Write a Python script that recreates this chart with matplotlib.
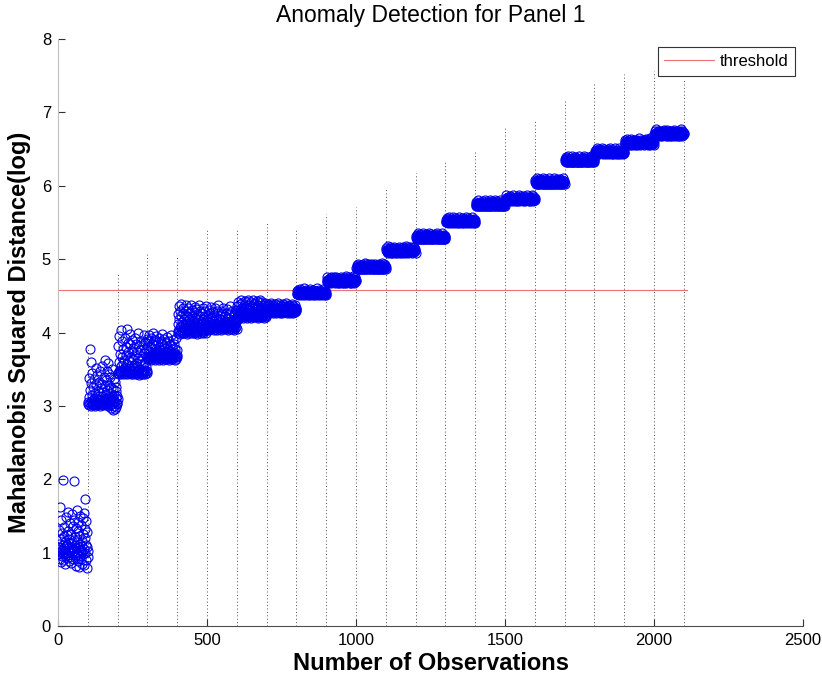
import numpy as np
import matplotlib
matplotlib.use('Agg')
import matplotlib.pyplot as plt

plt.rcParams['font.family'] = ['Liberation Sans', 'DejaVu Sans']

# log Mahalanobis squared distance, one list per block of 100 observations
obs_0001 = [1.05, 0.98, 1.12, 1.31, 0.92, 1.08, 1.62, 1.01, 0.87, 1.18, 1.44, 0.95, 1.03, 1.27, 0.99, 1.10, 1.99, 0.90, 1.22, 1.06,
            1.35, 0.96, 1.02, 1.15, 0.84, 1.09, 1.48, 1.00, 1.24, 0.93, 1.11, 1.56, 0.97, 1.04, 1.30, 0.88, 1.07, 1.19, 1.41, 1.01,
            0.94, 1.13, 1.26, 1.03, 0.86, 1.52, 1.08, 0.99, 1.36, 1.05, 0.91, 1.17, 1.45, 1.98, 1.02, 0.95, 1.21, 1.10, 0.82, 1.33,
            1.06, 1.58, 0.97, 1.14, 1.00, 1.29, 0.89, 1.42, 1.08, 1.03, 0.80, 1.23, 1.50, 0.96, 1.12, 1.04, 1.37, 0.92, 1.16, 1.01,
            1.09, 0.85, 1.47, 1.25, 0.98, 1.05, 1.54, 0.83, 1.20, 1.73, 1.00, 1.32, 0.90, 1.11, 1.43, 0.79, 1.07, 1.28, 0.94, 1.02]
obs_0101 = [3.02, 3.05, 3.38, 3.01, 3.12, 3.77, 3.04, 3.22, 3.00, 3.60, 3.06, 3.31, 3.03, 3.15, 3.45, 3.01, 3.08, 3.26, 3.02, 3.10,
            3.04, 3.36, 3.00, 3.18, 3.07, 3.52, 3.03, 3.11, 3.28, 3.05, 3.01, 3.42, 3.09, 3.02, 3.20, 3.06, 3.33, 3.04, 3.14, 3.00,
            3.08, 3.47, 3.03, 3.24, 3.05, 3.13, 3.55, 3.02, 3.30, 3.07, 3.01, 3.19, 3.40, 3.04, 3.10, 3.62, 3.06, 3.27, 3.03, 3.16,
            3.05, 3.35, 3.02, 3.48, 3.09, 3.21, 3.00, 3.58, 3.12, 3.04, 3.29, 3.44, 3.06, 3.17, 3.01, 3.39, 3.08, 3.25, 2.97, 3.13,
            3.03, 3.50, 3.10, 2.95, 3.23, 3.06, 3.37, 3.00, 3.15, 2.96, 3.32, 3.05, 3.20, 3.11, 2.98, 3.26, 3.04, 3.14, 3.02, 3.09]
obs_0201 = [3.45, 3.82, 3.47, 3.60, 3.44, 3.95, 3.48, 3.71, 3.46, 3.55, 4.03, 3.43, 3.66, 3.49, 3.88, 3.45, 3.58, 3.47, 3.77, 3.44,
            3.50, 3.63, 3.46, 3.92, 3.48, 3.53, 3.80, 3.45, 3.69, 3.47, 4.05, 3.44, 3.57, 3.74, 3.46, 3.86, 3.49, 3.62, 3.45, 3.98,
            3.47, 3.52, 3.84, 3.43, 3.67, 3.48, 3.75, 3.46, 3.90, 3.51, 3.44, 3.64, 3.79, 3.47, 3.56, 3.45, 3.93, 3.49, 3.70, 3.46,
            3.59, 3.44, 3.85, 3.48, 3.54, 3.73, 3.45, 3.99, 3.47, 3.65, 3.42, 3.81, 3.50, 3.61, 3.46, 3.76, 3.44, 3.89, 3.48, 3.57,
            3.45, 3.68, 3.47, 3.83, 3.43, 3.54, 3.96, 3.46, 3.72, 3.49, 3.60, 3.44, 3.87, 3.47, 3.53, 3.78, 3.45, 3.66, 3.48, 3.91]
obs_0301 = [3.66, 3.88, 3.64, 3.75, 3.68, 3.97, 3.65, 3.81, 3.67, 3.72, 3.63, 3.92, 3.69, 3.78, 3.66, 3.85, 3.64, 3.70, 3.99, 3.67,
            3.74, 3.65, 3.90, 3.68, 3.63, 3.83, 3.66, 3.77, 3.69, 3.95, 3.64, 3.71, 3.67, 3.87, 3.65, 3.73, 3.68, 3.80, 3.62, 3.93,
            3.66, 3.76, 3.69, 3.89, 3.64, 3.72, 3.67, 3.84, 3.65, 3.98, 3.68, 3.74, 3.63, 3.82, 3.66, 3.70, 3.91, 3.67, 3.79, 3.64,
            3.69, 3.86, 3.65, 3.73, 3.67, 3.94, 3.64, 3.77, 3.68, 3.71, 3.66, 3.89, 3.63, 3.75, 3.69, 3.83, 3.65, 3.70, 3.96, 3.67,
            3.72, 3.64, 3.81, 3.68, 3.66, 3.90, 3.65, 3.74, 3.69, 3.85, 3.63, 3.71, 3.67, 3.78, 3.64, 3.92, 3.68, 3.70, 3.66, 3.76]
obs_0401 = [4.02, 4.25, 3.99, 4.11, 4.36, 4.04, 4.18, 3.98, 4.30, 4.07, 4.01, 4.22, 4.09, 4.39, 4.03, 4.14, 4.00, 4.27, 4.06, 4.12,
            4.33, 4.02, 4.19, 3.99, 4.08, 4.24, 4.05, 4.37, 4.01, 4.15, 4.10, 4.29, 3.98, 4.06, 4.21, 4.03, 4.34, 4.08, 4.00, 4.17,
            4.04, 4.26, 4.11, 4.01, 4.38, 4.07, 4.13, 3.99, 4.23, 4.05, 4.31, 4.02, 4.16, 4.09, 4.00, 4.28, 4.06, 4.12, 4.35, 4.03,
            4.20, 4.01, 4.10, 4.32, 4.04, 4.15, 3.98, 4.25, 4.07, 4.02, 4.19, 4.37, 4.05, 4.11, 4.00, 4.23, 4.08, 4.30, 4.03, 4.14,
            4.06, 4.27, 4.01, 4.12, 4.34, 4.04, 4.18, 3.99, 4.09, 4.22, 4.02, 4.29, 4.07, 4.13, 4.00, 4.36, 4.05, 4.16, 4.03, 4.10]
obs_0501 = [4.08, 4.22, 4.05, 4.15, 4.31, 4.07, 4.10, 4.04, 4.26, 4.09, 4.18, 4.06, 4.35, 4.11, 4.05, 4.20, 4.08, 4.13, 4.28, 4.06,
            4.10, 4.04, 4.24, 4.07, 4.16, 4.09, 4.33, 4.05, 4.12, 4.21, 4.08, 4.06, 4.29, 4.11, 4.04, 4.17, 4.09, 4.37, 4.07, 4.14,
            4.05, 4.23, 4.10, 4.06, 4.19, 4.08, 4.30, 4.04, 4.13, 4.09, 4.25, 4.07, 4.11, 4.05, 4.34, 4.08, 4.15, 4.06, 4.22, 4.10,
            4.07, 4.27, 4.05, 4.12, 4.09, 4.18, 4.06, 4.32, 4.11, 4.04, 4.20, 4.08, 4.14, 4.07, 4.26, 4.05, 4.10, 4.36, 4.09, 4.13,
            4.06, 4.21, 4.08, 4.11, 4.29, 4.05, 4.16, 4.10, 4.07, 4.24, 4.09, 4.04, 4.19, 4.12, 4.06, 4.31, 4.08, 4.14, 4.05, 4.17]
obs_0601 = [4.23, 4.36, 4.21, 4.28, 4.42, 4.24, 4.26, 4.20, 4.39, 4.25, 4.31, 4.22, 4.44, 4.27, 4.21, 4.34, 4.24, 4.29, 4.40, 4.22,
            4.26, 4.20, 4.37, 4.23, 4.30, 4.25, 4.43, 4.21, 4.28, 4.35, 4.24, 4.22, 4.41, 4.27, 4.20, 4.32, 4.25, 4.45, 4.23, 4.29,
            4.21, 4.38, 4.26, 4.22, 4.33, 4.24, 4.42, 4.20, 4.28, 4.25, 4.36, 4.23, 4.27, 4.21, 4.44, 4.24, 4.30, 4.22, 4.39, 4.26,
            4.23, 4.40, 4.21, 4.27, 4.25, 4.34, 4.22, 4.43, 4.26, 4.20, 4.37, 4.24, 4.29, 4.23, 4.41, 4.21, 4.26, 4.45, 4.25, 4.28,
            4.22, 4.35, 4.24, 4.27, 4.42, 4.21, 4.31, 4.26, 4.23, 4.38, 4.25, 4.20, 4.33, 4.28, 4.22, 4.40, 4.24, 4.29, 4.21, 4.32]
obs_0701 = [4.30, 4.36, 4.28, 4.32, 4.39, 4.29, 4.31, 4.27, 4.37, 4.30, 4.33, 4.28, 4.40, 4.31, 4.29, 4.35, 4.30, 4.32, 4.38, 4.28,
            4.31, 4.27, 4.34, 4.29, 4.36, 4.30, 4.28, 4.39, 4.32, 4.29, 4.27, 4.35, 4.31, 4.30, 4.37, 4.28, 4.33, 4.29, 4.40, 4.30,
            4.28, 4.34, 4.31, 4.27, 4.38, 4.30, 4.29, 4.33, 4.28, 4.36, 4.31, 4.29, 4.27, 4.39, 4.30, 4.32, 4.28, 4.35, 4.29, 4.31,
            4.30, 4.37, 4.28, 4.33, 4.29, 4.40, 4.31, 4.27, 4.34, 4.30, 4.28, 4.36, 4.32, 4.29, 4.38, 4.30, 4.27, 4.33, 4.31, 4.29,
            4.35, 4.28, 4.30, 4.39, 4.29, 4.32, 4.27, 4.36, 4.31, 4.30, 4.28, 4.34, 4.29, 4.37, 4.30, 4.28, 4.33, 4.31, 4.29, 4.32]
obs_0801 = [4.53, 4.56, 4.52, 4.55, 4.58, 4.53, 4.54, 4.51, 4.57, 4.54, 4.52, 4.55, 4.59, 4.53, 4.54, 4.52, 4.56, 4.53, 4.55, 4.51,
            4.54, 4.57, 4.52, 4.53, 4.55, 4.60, 4.53, 4.51, 4.54, 4.56, 4.52, 4.53, 4.58, 4.54, 4.52, 4.55, 4.53, 4.57, 4.51, 4.54,
            4.52, 4.55, 4.53, 4.59, 4.54, 4.51, 4.53, 4.56, 4.52, 4.54, 4.57, 4.53, 4.52, 4.55, 4.51, 4.58, 4.54, 4.53, 4.56, 4.52,
            4.55, 4.53, 4.51, 4.57, 4.54, 4.52, 4.56, 4.53, 4.60, 4.54, 4.52, 4.55, 4.53, 4.51, 4.58, 4.54, 4.52, 4.56, 4.53, 4.55,
            4.53, 4.51, 4.57, 4.54, 4.52, 4.55, 4.53, 4.59, 4.52, 4.54, 4.56, 4.51, 4.53, 4.55, 4.52, 4.57, 4.54, 4.53, 4.51, 4.55]
obs_0901 = [4.69, 4.72, 4.70, 4.76, 4.71, 4.68, 4.70, 4.73, 4.69, 4.71, 4.74, 4.70, 4.69, 4.72, 4.68, 4.75, 4.71, 4.70, 4.73, 4.69,
            4.70, 4.73, 4.69, 4.72, 4.75, 4.70, 4.71, 4.68, 4.74, 4.71, 4.69, 4.72, 4.76, 4.70, 4.71, 4.69, 4.73, 4.70, 4.72, 4.68,
            4.70, 4.68, 4.74, 4.71, 4.69, 4.72, 4.70, 4.76, 4.69, 4.71, 4.73, 4.68, 4.70, 4.72, 4.69, 4.74, 4.71, 4.70, 4.68, 4.72,
            4.71, 4.74, 4.69, 4.70, 4.72, 4.77, 4.70, 4.68, 4.71, 4.73, 4.69, 4.70, 4.75, 4.71, 4.69, 4.72, 4.70, 4.74, 4.68, 4.71,
            4.72, 4.70, 4.68, 4.74, 4.71, 4.69, 4.73, 4.70, 4.77, 4.71, 4.69, 4.72, 4.70, 4.68, 4.75, 4.71, 4.69, 4.73, 4.70, 4.72]
obs_1001 = [4.88, 4.86, 4.92, 4.89, 4.87, 4.90, 4.88, 4.94, 4.87, 4.89, 4.91, 4.86, 4.88, 4.90, 4.87, 4.92, 4.89, 4.88, 4.86, 4.90,
            4.90, 4.88, 4.86, 4.92, 4.89, 4.87, 4.91, 4.88, 4.95, 4.89, 4.87, 4.90, 4.88, 4.86, 4.93, 4.89, 4.87, 4.91, 4.88, 4.90,
            4.88, 4.91, 4.87, 4.90, 4.93, 4.88, 4.89, 4.86, 4.92, 4.89, 4.87, 4.90, 4.94, 4.88, 4.89, 4.87, 4.91, 4.88, 4.90, 4.86,
            4.87, 4.90, 4.88, 4.94, 4.89, 4.86, 4.88, 4.91, 4.87, 4.89, 4.92, 4.88, 4.87, 4.90, 4.86, 4.93, 4.89, 4.88, 4.91, 4.87,
            4.89, 4.92, 4.87, 4.88, 4.90, 4.95, 4.88, 4.86, 4.89, 4.91, 4.87, 4.88, 4.93, 4.89, 4.87, 4.90, 4.88, 4.92, 4.86, 4.89]
obs_1101 = [5.12, 5.15, 5.10, 5.11, 5.13, 5.18, 5.11, 5.09, 5.12, 5.14, 5.10, 5.11, 5.16, 5.12, 5.10, 5.13, 5.11, 5.15, 5.09, 5.12,
            5.11, 5.09, 5.15, 5.12, 5.10, 5.13, 5.11, 5.17, 5.10, 5.12, 5.14, 5.09, 5.11, 5.13, 5.10, 5.15, 5.12, 5.11, 5.09, 5.13,
            5.10, 5.13, 5.11, 5.17, 5.12, 5.09, 5.11, 5.14, 5.10, 5.12, 5.15, 5.11, 5.10, 5.13, 5.09, 5.16, 5.12, 5.11, 5.14, 5.10,
            5.13, 5.11, 5.09, 5.15, 5.12, 5.10, 5.14, 5.11, 5.18, 5.12, 5.10, 5.13, 5.11, 5.09, 5.16, 5.12, 5.10, 5.14, 5.11, 5.13,
            5.11, 5.14, 5.10, 5.13, 5.16, 5.11, 5.12, 5.09, 5.15, 5.12, 5.10, 5.13, 5.17, 5.11, 5.12, 5.10, 5.14, 5.11, 5.13, 5.09]
obs_1201 = [5.31, 5.29, 5.27, 5.33, 5.30, 5.28, 5.32, 5.29, 5.36, 5.30, 5.28, 5.31, 5.29, 5.27, 5.34, 5.30, 5.28, 5.32, 5.29, 5.31,
            5.28, 5.31, 5.29, 5.35, 5.30, 5.27, 5.29, 5.32, 5.28, 5.30, 5.33, 5.29, 5.28, 5.31, 5.27, 5.34, 5.30, 5.29, 5.32, 5.28,
            5.30, 5.33, 5.28, 5.29, 5.31, 5.36, 5.29, 5.27, 5.30, 5.32, 5.28, 5.29, 5.34, 5.30, 5.28, 5.31, 5.29, 5.33, 5.27, 5.30,
            5.29, 5.32, 5.28, 5.31, 5.34, 5.29, 5.30, 5.27, 5.33, 5.30, 5.28, 5.31, 5.35, 5.29, 5.30, 5.28, 5.32, 5.29, 5.31, 5.27,
            5.29, 5.27, 5.33, 5.30, 5.28, 5.31, 5.29, 5.35, 5.28, 5.30, 5.32, 5.27, 5.29, 5.31, 5.28, 5.33, 5.30, 5.29, 5.27, 5.31]
obs_1301 = [5.51, 5.54, 5.50, 5.53, 5.56, 5.51, 5.52, 5.49, 5.55, 5.52, 5.50, 5.53, 5.57, 5.51, 5.52, 5.50, 5.54, 5.51, 5.53, 5.49,
            5.52, 5.55, 5.50, 5.51, 5.53, 5.58, 5.51, 5.49, 5.52, 5.54, 5.50, 5.51, 5.56, 5.52, 5.50, 5.53, 5.51, 5.55, 5.49, 5.52,
            5.50, 5.53, 5.51, 5.57, 5.52, 5.49, 5.51, 5.54, 5.50, 5.52, 5.55, 5.51, 5.50, 5.53, 5.49, 5.56, 5.52, 5.51, 5.54, 5.50,
            5.53, 5.51, 5.49, 5.55, 5.52, 5.50, 5.54, 5.51, 5.58, 5.52, 5.50, 5.53, 5.51, 5.49, 5.56, 5.52, 5.50, 5.54, 5.51, 5.53,
            5.51, 5.49, 5.55, 5.52, 5.50, 5.53, 5.51, 5.57, 5.50, 5.52, 5.54, 5.49, 5.51, 5.53, 5.50, 5.55, 5.52, 5.51, 5.49, 5.53]
obs_1401 = [5.74, 5.72, 5.78, 5.75, 5.73, 5.76, 5.74, 5.80, 5.73, 5.75, 5.77, 5.72, 5.74, 5.76, 5.73, 5.78, 5.75, 5.74, 5.72, 5.76,
            5.74, 5.77, 5.73, 5.76, 5.79, 5.74, 5.75, 5.72, 5.78, 5.75, 5.73, 5.76, 5.80, 5.74, 5.75, 5.73, 5.77, 5.74, 5.76, 5.72,
            5.76, 5.74, 5.72, 5.78, 5.75, 5.73, 5.77, 5.74, 5.81, 5.75, 5.73, 5.76, 5.74, 5.72, 5.79, 5.75, 5.73, 5.77, 5.74, 5.76,
            5.75, 5.78, 5.73, 5.74, 5.76, 5.81, 5.74, 5.72, 5.75, 5.77, 5.73, 5.74, 5.79, 5.75, 5.73, 5.76, 5.74, 5.78, 5.72, 5.75,
            5.73, 5.76, 5.74, 5.80, 5.75, 5.72, 5.74, 5.77, 5.73, 5.75, 5.78, 5.74, 5.73, 5.76, 5.72, 5.79, 5.75, 5.74, 5.77, 5.73]
obs_1501 = [5.80, 5.83, 5.81, 5.87, 5.82, 5.79, 5.81, 5.84, 5.80, 5.82, 5.85, 5.81, 5.80, 5.83, 5.79, 5.86, 5.82, 5.81, 5.84, 5.80,
            5.81, 5.79, 5.85, 5.82, 5.80, 5.83, 5.81, 5.87, 5.80, 5.82, 5.84, 5.79, 5.81, 5.83, 5.80, 5.85, 5.82, 5.81, 5.79, 5.83,
            5.82, 5.85, 5.80, 5.81, 5.83, 5.88, 5.81, 5.79, 5.82, 5.84, 5.80, 5.81, 5.86, 5.82, 5.80, 5.83, 5.81, 5.85, 5.79, 5.82,
            5.81, 5.84, 5.80, 5.83, 5.86, 5.81, 5.82, 5.79, 5.85, 5.82, 5.80, 5.83, 5.87, 5.81, 5.82, 5.80, 5.84, 5.81, 5.83, 5.79,
            5.83, 5.81, 5.79, 5.85, 5.82, 5.80, 5.84, 5.81, 5.88, 5.82, 5.80, 5.83, 5.81, 5.79, 5.86, 5.82, 5.80, 5.84, 5.81, 5.83]
obs_1601 = [6.05, 6.08, 6.03, 6.04, 6.06, 6.11, 6.04, 6.02, 6.05, 6.07, 6.03, 6.04, 6.09, 6.05, 6.03, 6.06, 6.04, 6.08, 6.02, 6.05,
            6.06, 6.04, 6.02, 6.08, 6.05, 6.03, 6.07, 6.04, 6.11, 6.05, 6.03, 6.06, 6.04, 6.02, 6.09, 6.05, 6.03, 6.07, 6.04, 6.06,
            6.04, 6.02, 6.08, 6.05, 6.03, 6.06, 6.04, 6.10, 6.03, 6.05, 6.07, 6.02, 6.04, 6.06, 6.03, 6.08, 6.05, 6.04, 6.02, 6.06,
            6.03, 6.06, 6.04, 6.10, 6.05, 6.02, 6.04, 6.07, 6.03, 6.05, 6.08, 6.04, 6.03, 6.06, 6.02, 6.09, 6.05, 6.04, 6.07, 6.03,
            6.04, 6.07, 6.03, 6.06, 6.09, 6.04, 6.05, 6.02, 6.08, 6.05, 6.03, 6.06, 6.10, 6.04, 6.05, 6.03, 6.07, 6.04, 6.06, 6.02]
obs_1701 = [6.34, 6.37, 6.33, 6.36, 6.39, 6.34, 6.35, 6.32, 6.38, 6.35, 6.33, 6.36, 6.40, 6.34, 6.35, 6.33, 6.37, 6.34, 6.36, 6.32,
            6.33, 6.36, 6.34, 6.40, 6.35, 6.32, 6.34, 6.37, 6.33, 6.35, 6.38, 6.34, 6.33, 6.36, 6.32, 6.39, 6.35, 6.34, 6.37, 6.33,
            6.34, 6.32, 6.38, 6.35, 6.33, 6.36, 6.34, 6.40, 6.33, 6.35, 6.37, 6.32, 6.34, 6.36, 6.33, 6.38, 6.35, 6.34, 6.32, 6.36,
            6.35, 6.38, 6.33, 6.34, 6.36, 6.41, 6.34, 6.32, 6.35, 6.37, 6.33, 6.34, 6.39, 6.35, 6.33, 6.36, 6.34, 6.38, 6.32, 6.35,
            6.36, 6.34, 6.32, 6.38, 6.35, 6.33, 6.37, 6.34, 6.41, 6.35, 6.33, 6.36, 6.34, 6.32, 6.39, 6.35, 6.33, 6.37, 6.34, 6.36]
obs_1801 = [6.47, 6.45, 6.43, 6.49, 6.46, 6.44, 6.48, 6.45, 6.52, 6.46, 6.44, 6.47, 6.45, 6.43, 6.50, 6.46, 6.44, 6.48, 6.45, 6.47,
            6.46, 6.49, 6.44, 6.45, 6.47, 6.52, 6.45, 6.43, 6.46, 6.48, 6.44, 6.45, 6.50, 6.46, 6.44, 6.47, 6.45, 6.49, 6.43, 6.46,
            6.45, 6.48, 6.44, 6.47, 6.50, 6.45, 6.46, 6.43, 6.49, 6.46, 6.44, 6.47, 6.51, 6.45, 6.46, 6.44, 6.48, 6.45, 6.47, 6.43,
            6.45, 6.43, 6.49, 6.46, 6.44, 6.47, 6.45, 6.51, 6.44, 6.46, 6.48, 6.43, 6.45, 6.47, 6.44, 6.49, 6.46, 6.45, 6.43, 6.47,
            6.44, 6.47, 6.45, 6.51, 6.46, 6.43, 6.45, 6.48, 6.44, 6.46, 6.49, 6.45, 6.44, 6.47, 6.43, 6.50, 6.46, 6.45, 6.48, 6.44]
obs_1901 = [6.58, 6.56, 6.62, 6.59, 6.57, 6.60, 6.58, 6.64, 6.57, 6.59, 6.61, 6.56, 6.58, 6.60, 6.57, 6.62, 6.59, 6.58, 6.56, 6.60,
            6.57, 6.60, 6.58, 6.64, 6.59, 6.56, 6.58, 6.61, 6.57, 6.59, 6.62, 6.58, 6.57, 6.60, 6.56, 6.63, 6.59, 6.58, 6.61, 6.57,
            6.60, 6.58, 6.56, 6.62, 6.59, 6.57, 6.61, 6.58, 6.65, 6.59, 6.57, 6.60, 6.58, 6.56, 6.63, 6.59, 6.57, 6.61, 6.58, 6.60,
            6.58, 6.61, 6.57, 6.60, 6.63, 6.58, 6.59, 6.56, 6.62, 6.59, 6.57, 6.60, 6.64, 6.58, 6.59, 6.57, 6.61, 6.58, 6.60, 6.56,
            6.59, 6.62, 6.57, 6.58, 6.60, 6.65, 6.58, 6.56, 6.59, 6.61, 6.57, 6.58, 6.63, 6.59, 6.57, 6.60, 6.58, 6.62, 6.56, 6.59]
obs_2001 = [6.71, 6.74, 6.69, 6.70, 6.72, 6.77, 6.70, 6.68, 6.71, 6.73, 6.69, 6.70, 6.75, 6.71, 6.69, 6.72, 6.70, 6.74, 6.68, 6.71,
            6.70, 6.73, 6.69, 6.72, 6.75, 6.70, 6.71, 6.68, 6.74, 6.71, 6.69, 6.72, 6.76, 6.70, 6.71, 6.69, 6.73, 6.70, 6.72, 6.68,
            6.69, 6.72, 6.70, 6.76, 6.71, 6.68, 6.70, 6.73, 6.69, 6.71, 6.74, 6.70, 6.69, 6.72, 6.68, 6.75, 6.71, 6.70, 6.73, 6.69,
            6.70, 6.68, 6.74, 6.71, 6.69, 6.72, 6.70, 6.76, 6.69, 6.71, 6.73, 6.68, 6.70, 6.72, 6.69, 6.74, 6.71, 6.70, 6.68, 6.72,
            6.72, 6.70, 6.68, 6.74, 6.71, 6.69, 6.73, 6.70, 6.77, 6.71, 6.69, 6.72, 6.70, 6.68, 6.75, 6.71, 6.69, 6.73, 6.70, 6.72]

# dotted markers at the end of each block and their heights
block_end = [100, 200, 300, 400, 500, 600, 700, 800, 900, 1000, 1100,
             1200, 1300, 1400, 1500, 1600, 1700, 1800, 1900, 2000, 2100]
block_top = [3.80, 4.81, 5.08, 5.05, 5.42, 5.42, 5.50, 5.42, 5.61, 5.71, 5.95,
             6.18, 6.34, 6.48, 6.79, 6.89, 7.17, 7.40, 7.53, 7.56, 7.44]

threshold = 4.58
threshold_span = [0, 2110]

segments = [obs_0001, obs_0101, obs_0201, obs_0301, obs_0401, obs_0501, obs_0601,
            obs_0701, obs_0801, obs_0901, obs_1001, obs_1101, obs_1201, obs_1301,
            obs_1401, obs_1501, obs_1601, obs_1701, obs_1801, obs_1901, obs_2001]
distance = np.concatenate(segments)
observation = np.arange(1, len(distance) + 1)

fig = plt.figure(figsize=(8.22, 6.8), dpi=100)
ax = fig.add_axes([0.0706, 0.0794, 0.9063, 0.8632])

ax.vlines(block_end, 0, block_top, colors='0.3', linestyles=(0, (1, 2.5)),
          linewidth=0.7, zorder=1)
ax.plot(threshold_span, [threshold, threshold], color='#f07070', lw=0.8,
        label='threshold', zorder=2)
ax.plot(observation, distance, 'o', mfc='none', mec='#0000ee', ms=6.5, mew=0.8, zorder=3)

ax.set_xlim(0, 2500)
ax.set_ylim(0, 8)
ax.set_xticks([0, 500, 1000, 1500, 2000, 2500])
ax.set_yticks(range(0, 9))

ax.spines['top'].set_visible(False)
ax.spines['right'].set_visible(False)
ax.spines['left'].set_color('0.75')
ax.spines['bottom'].set_color('0.3')
ax.tick_params(direction='in', length=5, width=0.8, color='0.2', labelsize=12, pad=5)

ax.set_title('Anomaly Detection for Panel 1', fontsize=16.5, pad=12)
ax.set_xlabel('Number of Observations', fontsize=17, fontweight='bold', labelpad=3)
ax.set_ylabel('Mahalanobis Squared Distance(log)', fontsize=17, fontweight='bold', labelpad=8)

leg = ax.legend(loc='upper right', fontsize=12, fancybox=False, framealpha=1,
                edgecolor='0.2', handlelength=3.0, handletextpad=0.3,
                borderaxespad=0.5)
leg.get_frame().set_linewidth(0.8)

fig.savefig('out.png', dpi=100)
